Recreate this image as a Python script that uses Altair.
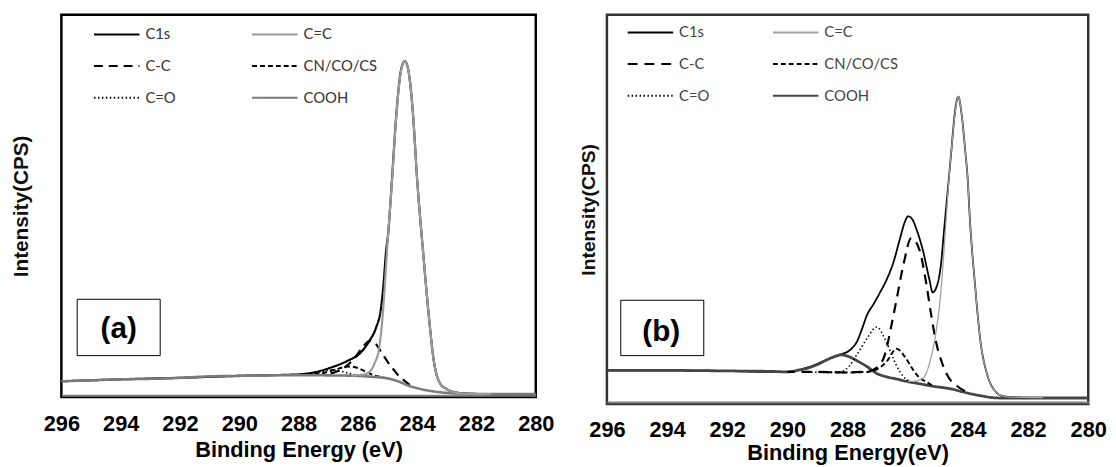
import altair as alt
import pandas as pd

SERIES = ["C1s", "C=C", "C-C", "CN/CO/CS", "C=O", "COOH"]
TICKS = [296, 294, 292, 290, 288, 286, 284, 282, 280]

# ---------------- panel (a) : (binding energy eV, intensity) ----------------
A_C1S = [(296, 16), (294, 18), (292, 19.5), (290, 21.5), (288.5, 22.5), (288, 23), (287.44, 25.3),
         (286.9, 30), (286.33, 37), (285.94, 44), (285.61, 57), (285.39, 70), (285.22, 90),
         (285.13, 116), (285.05, 147), (284.98, 165), (284.85, 220), (284.7, 287), (284.55, 330),
         (284.42, 340), (284.3, 331), (284.15, 290), (284.0, 220), (283.8, 147), (283.6, 80),
         (283.44, 37), (283.23, 14), (283.0, 8), (282.78, 5.3), (282.5, 4), (282.0, 3.2),
         (281.0, 3), (280.0, 3)]
A_CEQC = [(281.5, 3), (282.23, 3.2), (282.78, 5.3), (283.0, 8), (283.23, 14), (283.44, 37),
          (283.6, 80), (283.8, 147), (284.0, 220), (284.15, 290), (284.3, 331), (284.42, 340),
          (284.55, 329), (284.7, 286), (284.85, 218), (285.02, 147), (285.09, 114), (285.17, 80),
          (285.28, 50), (285.44, 34), (285.56, 27), (285.78, 23), (286.2, 22)]
A_CC = [(287.2, 23), (286.8, 25), (286.45, 30), (286.1, 40), (285.85, 50), (285.6, 57),
        (285.4, 54), (285.2, 45), (285.0, 36), (284.8, 28), (284.6, 21), (284.44, 17), (284.25, 12.5)]
A_CN = [(287.6, 23.5), (287.1, 25), (286.75, 28), (286.45, 30.5), (286.25, 31), (286.0, 29.5),
        (285.75, 26), (285.5, 22.5), (285.25, 20.5), (285.0, 19)]
A_CO = [(288.2, 22.5), (287.6, 23.5), (287.2, 26), (286.9, 27.5), (286.6, 26.5), (286.3, 24),
        (286.0, 22), (285.7, 21)]
A_COOH = [(296, 16), (295, 17), (294, 18), (293, 18.5), (292, 19.5), (291, 21), (290, 21.5),
          (289, 22), (288, 22.2), (287, 22), (286, 21.5), (285.5, 20.5), (285, 19), (284.6, 15.5),
          (284.33, 12), (284, 9), (283.57, 6.3), (283, 4.3), (282.67, 3.7), (282, 3.2), (281, 3),
          (280, 3)]

# ---------------- panel (b) ----------------
B_C1S = [(296, 34), (294, 34), (292, 33.5), (290.65, 32.5), (290, 32.5), (289.33, 37), (288.67, 45),
         (288.24, 50), (287.85, 56.5), (287.69, 63), (287.52, 76), (287.36, 89.7), (287.14, 101),
         (286.92, 113), (286.7, 126), (286.48, 143), (286.27, 166), (286.1, 184), (285.99, 190),
         (285.85, 187), (285.7, 176), (285.5, 156), (285.28, 126), (285.17, 113), (285.05, 118),
         (284.9, 140), (284.78, 180), (284.64, 226), (284.54, 260), (284.44, 293), (284.32, 311),
         (284.2, 291), (284.1, 260), (284.0, 224), (283.94, 190), (283.77, 123), (283.58, 63),
         (283.36, 30), (283.09, 13), (282.83, 8), (282.5, 7), (282, 6.5), (281, 6.5), (280, 6.5)]
B_CEQC = [(281.5, 6.5), (282.5, 7), (282.83, 8), (283.09, 13), (283.36, 30), (283.58, 63),
          (283.77, 123), (283.94, 190), (284.0, 224), (284.1, 260), (284.2, 291), (284.32, 311),
          (284.44, 291), (284.54, 260), (284.64, 224), (284.75, 175), (284.9, 113), (285.06, 73),
          (285.26, 43), (285.5, 26), (285.83, 23), (286.0, 23)]
B_CC = [(290, 32.5), (289, 32.5), (288.13, 32), (287.36, 33), (286.98, 38), (286.76, 50),
        (286.54, 80), (286.37, 106), (286.15, 140), (285.88, 168), (285.61, 156), (285.39, 123),
        (285.22, 90), (285.06, 63), (284.84, 40), (284.62, 26), (284.35, 18), (284.1, 13)]
B_CN = [(289, 32.5), (288, 32), (287.36, 32.5), (287.03, 35), (286.7, 43), (286.37, 56),
        (286.1, 48), (285.83, 35), (285.61, 26.5), (285.39, 22.5), (285.2, 19)]
B_CO = [(289.5, 32.5), (288.6, 32), (288.18, 33), (287.96, 38), (287.69, 50), (287.36, 66),
        (287.03, 78), (286.76, 66), (286.48, 46), (286.27, 33), (286.05, 25), (285.85, 22.5)]
B_COOH = [(296, 34), (294, 34), (292, 33.5), (290.5, 33), (290, 32.5), (289.6, 34.5),
          (289.33, 36.3), (289, 40), (288.67, 45), (288.4, 48.5), (288.24, 49.7), (288, 48.5),
          (287.7, 44), (287.36, 38), (287.03, 31), (286.7, 27.5), (286.4, 25.5), (286.05, 23),
          (285.6, 20.5), (285.17, 18), (284.8, 16.5), (284.51, 15), (284.2, 12.5), (283.85, 10),
          (283.5, 8), (283.2, 6.5), (282.76, 6), (282, 6), (280, 6)]

A_DATA = {"C1s": A_C1S, "C=C": A_CEQC, "C-C": A_CC, "CN/CO/CS": A_CN, "C=O": A_CO, "COOH": A_COOH}
B_DATA = {"C1s": B_C1S, "C=C": B_CEQC, "C-C": B_CC, "CN/CO/CS": B_CN, "C=O": B_CO, "COOH": B_COOH}

A_COLORS = ["#000000", "#9a9a9a", "#000000", "#000000", "#000000", "#7a7a7a"]
A_WIDTHS = [2.2, 2.2, 2.2, 2.0, 1.6, 2.6]
A_DASH = [[1, 0], [1, 0], [9, 6], [5, 3], [1.5, 2.5], [1, 0]]
B_COLORS = ["#000000", "#a0a0a0", "#000000", "#000000", "#000000", "#454545"]
B_WIDTHS = [1.8, 1.3, 2.2, 2.0, 1.6, 2.8]
B_DASH = [[1, 0], [1, 0], [10, 7], [5, 3], [1.5, 2.5], [1, 0]]

A_ORDER = ["C1s", "C-C", "CN/CO/CS", "C=O", "COOH", "C=C"]
B_ORDER = ["C1s", "COOH", "C=O", "CN/CO/CS", "C-C", "C=C"]


def to_df(data, widths):
    wmap = dict(zip(SERIES, widths))
    rows = []
    for s, pts in data.items():
        for ev, inten in pts:
            rows.append({"series": s, "ev": ev, "inten": inten, "sw": wmap[s]})
    return pd.DataFrame(rows)


def panel(data, order, colors, widths, dashes, width, height, ymax, xtitle, ytitle,
          ytitle_size, ytitle_pad, legend_kw, label_box, label_text, label_xy, frame_color,
          lab_pad, xt_pad):
    df = to_df(data, widths)
    legend = alt.Legend(orient="none", columns=2, direction="horizontal", symbolType="stroke",
                        padding=0, labelFont="Lato", labelFontSize=15, labelLimit=200,
                        gridAlign="all", labelOffset=5, symbolStrokeWidth=2,
                        **legend_kw)
    x = alt.X("ev:Q", scale=alt.Scale(domain=[280, 296], reverse=True, nice=False),
              axis=alt.Axis(values=TICKS, format="d", title=xtitle, labelFont="Liberation Sans",
                            labelFontSize=22, labelFontWeight="bold", labelColor="#000",
                            ticks=False, grid=False, domainColor="#808080", domainWidth=2,
                            offset=-2, labelPadding=lab_pad, labelFlush=False,
                            labelOverlap=False, titleFont="Liberation Sans", titleFontSize=22,
                            titleFontWeight="bold", titleColor="#000", titlePadding=xt_pad))
    y = alt.Y("inten:Q", scale=alt.Scale(domain=[0, ymax], nice=False, zero=True),
              axis=alt.Axis(title=ytitle, labels=False, ticks=False, domain=False, grid=False,
                            titleFont="Liberation Sans", titleFontSize=ytitle_size,
                            titleFontWeight="bold", titleColor="#111", titlePadding=ytitle_pad,
                            minExtent=0))
    color = alt.Color("series:N", scale=alt.Scale(domain=SERIES, range=colors), legend=legend,
                      title=None)
    dash = alt.StrokeDash("series:N", scale=alt.Scale(domain=SERIES, range=dashes),
                          legend=legend, title=None)
    sw = alt.StrokeWidth("sw:Q", scale=None, legend=None)
    layers = []
    for s in order:
        layers.append(
            alt.Chart(df).transform_filter(alt.datum.series == s)
            .mark_line(interpolate="monotone", strokeCap="butt")
            .encode(x=x, y=y, color=color, strokeDash=dash, strokeWidth=sw,
                    order=alt.Order("ev:Q"))
        )
    lab = pd.DataFrame({"label": [label_text]})
    bx0, bx1, by0, by1 = label_box
    box = alt.Chart(lab).mark_rect(fill="white", stroke="#000", strokeWidth=1).encode(
        x=alt.value(bx0), x2=alt.value(bx1), y=alt.value(by0), y2=alt.value(by1))
    txt = alt.Chart(lab).mark_text(font="Liberation Sans", fontSize=30, fontWeight="bold",
                                   align="center", baseline="middle", color="#000").encode(
        text="label:N", x=alt.value(label_xy[0]), y=alt.value(label_xy[1]))
    return alt.layer(*layers, box, txt).properties(
        width=width, height=height,
        view=alt.ViewBackground(stroke=frame_color, strokeWidth=2.5, fill="white"))


chart_a = panel(A_DATA, A_ORDER, A_COLORS, A_WIDTHS, A_DASH, 480, 387, 387,
                "Binding Energy (eV)", "Intensity(CPS)", 21, 30,
                dict(legendX=32, legendY=-4, columnPadding=29, rowPadding=0, symbolSize=2116,
                     labelColor="#333"),
                (16, 100, 288, 345), "(a)", (58, 318), "#000", 19, 5)
chart_b = panel(B_DATA, B_ORDER, B_COLORS, B_WIDTHS, B_DASH, 487, 394, 394,
                "Binding Energy(eV)", "Intensity(CPS)", 19.5, 9,
                dict(legendX=20, legendY=-6, columnPadding=16, rowPadding=0, symbolSize=2116,
                     labelColor="#444"),
                (14, 98, 289, 345), "(b)", (55, 321), "#333", 18, 2)

chart = alt.hconcat(chart_a, chart_b, spacing=72, bounds="flush").resolve_scale(
    x="independent", y="independent", color="independent", strokeDash="independent",
    strokeWidth="independent").properties(
    padding={"left": 1, "top": -4, "right": 0, "bottom": 0}, background="white"
).configure_view(stroke="#000")

chart.save("out.html", embed_options={"renderer": "svg", "actions": False})
